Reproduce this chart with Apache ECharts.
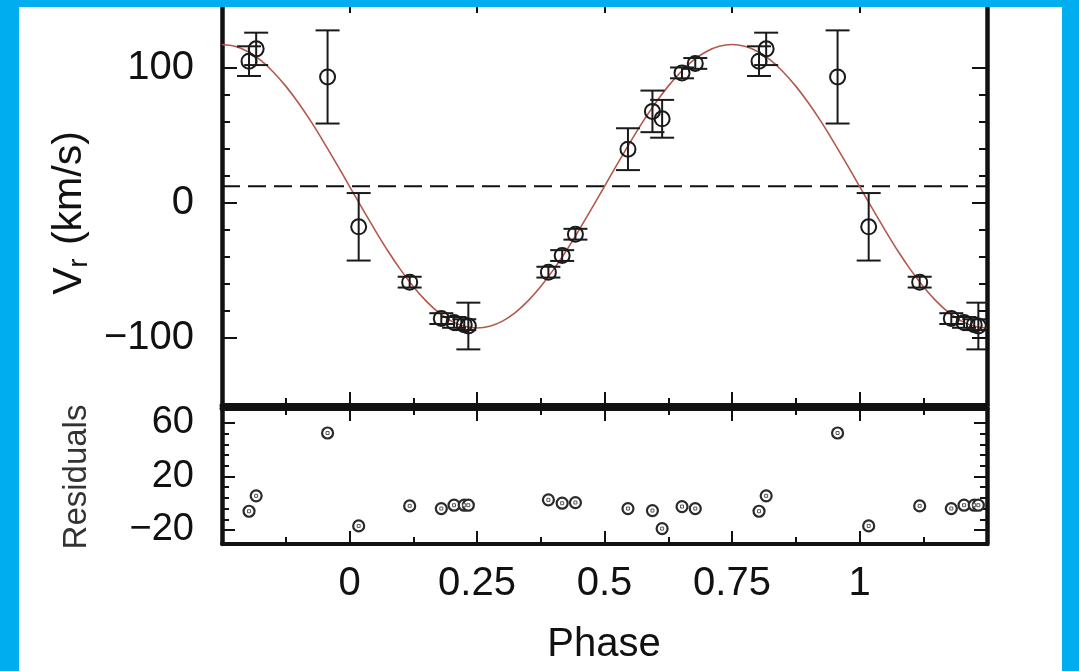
<!DOCTYPE html>
<html><head><meta charset="utf-8">
<script src="https://cdn.jsdelivr.net/npm/echarts@6/dist/echarts.min.js"></script>
<style>html,body{margin:0;padding:0;background:#fff}#c{width:1079px;height:671px}</style>
</head><body><div id="c"></div>
<script>
// ---- data ----
const phases     = [0.018, 0.118, 0.180, 0.205, 0.225, 0.233, 0.390, 0.417, 0.443, 0.546, 0.594, 0.613, 0.652, 0.678, 0.803, 0.817, 0.957];
const velocities = [-18, -59, -86, -88.8, -90.5, -91.5, -51.6, -39.3, -23.5, 39.5, 67.5, 62, 96, 103, 104.7, 113.8, 93];
const errors     = [25, 4, 4, 4, 4, 17.3, 4, 4, 4, 15.5, 15.4, 14, 4, 4, 11, 12, 34.5];
const residuals  = [-17, -2, -4, -1.5, -1.5, -1.5, 2.5, 0, 0.5, -4, -5.5, -19, -2.5, -4, -6, 5.5, 52.5];
const modelPhases = [-0.25,-0.225,-0.2,-0.175,-0.15,-0.125,-0.1,-0.075,-0.05,-0.025,
  0,0.025,0.05,0.075,0.1,0.125,0.15,0.175,0.2,0.225,
  0.25,0.275,0.3,0.325,0.35,0.375,0.4,0.425,0.45,0.475,
  0.5,0.525,0.55,0.575,0.6,0.625,0.65,0.675,0.7,0.725,
  0.75,0.775,0.8,0.825,0.85,0.875,0.9,0.925,0.95,0.975,
  1,1.025,1.05,1.075,1.1,1.125,1.15,1.175,1.2,1.225,1.25];
const modelVelocities = [117,115.7,111.9,105.6,96.9,86.2,73.7,59.7,44.4,28.4,
  12,-4.4,-20.4,-35.7,-49.7,-62.2,-72.9,-81.6,-87.9,-91.7,
  -93,-91.7,-87.9,-81.6,-72.9,-62.2,-49.7,-35.7,-20.4,-4.4,
  12,28.4,44.4,59.7,73.7,86.2,96.9,105.6,111.9,115.7,
  117,115.7,111.9,105.6,96.9,86.2,73.7,59.7,44.4,28.4,
  12,-4.4,-20.4,-35.7,-49.7,-62.2,-72.9,-81.6,-87.9,-91.7,-93];
const gamma = 12;
const xTickValues = [0, 0.25, 0.5, 0.75, 1];
const xTickLabels = ['0', '0.25', '0.5', '0.75', '1'];
const vTickValues = [-100, 0, 100];
const vTickLabels = ['\u2212100', '0', '100'];
const vMinorTicks = [-80, -60, -40, -20, 20, 40, 60, 80];
const resTickValues = [-20, 20, 60];
const resTickLabels = ['\u221220', '20', '60'];
const resMinorTicks = [-12, -4, 4, 12, 28, 36, 44, 52];

// ---- build plotted lists (phase-folded copies inside the visible window) ----
const X_MIN = -0.25, X_MAX = 1.25;
const ptData = [], errData = [], resData = [];
phases.forEach((p, i) => {
  [p - 1, p, p + 1].forEach(q => {
    if (q >= X_MIN && q <= X_MAX) {
      ptData.push([q, velocities[i]]);
      errData.push([q, velocities[i], errors[i]]);
      resData.push([q, residuals[i]]);
    }
  });
});
const modelData = modelPhases.map((p, i) => [p, modelVelocities[i]]);

const FONT = "'Liberation Sans', Arial, Helvetica, sans-serif";
const INK = '#111';

function fmt(values, labels) { return v => { const k = values.findIndex(t => Math.abs(t - v) < 1e-9); return k >= 0 ? labels[k] : ''; }; }

function xAxisDef(gridIndex, position, withLabels, lineWidth) {
  return {
    type: 'value', gridIndex, position, min: X_MIN, max: X_MAX, interval: 0.25,
    axisLine: { show: true, onZero: false, lineStyle: { color: INK, width: lineWidth } },
    axisTick: { show: true, inside: true, length: 13, lineStyle: { color: INK, width: 2 } },
    minorTick: { show: true, splitNumber: 2, length: 7, lineStyle: { color: INK, width: 2 } },
    splitLine: { show: false }, minorSplitLine: { show: false },
    axisLabel: withLabels ? { show: true, customValues: xTickValues, formatter: fmt(xTickValues, xTickLabels), fontSize: 40, fontFamily: FONT, color: INK, margin: 20 } : { show: false }
  };
}
function yAxisDef(gridIndex, position, min, max, ticks, len, showLine, label) {
  return {
    type: 'value', gridIndex, position, min, max,
    axisLine: { show: showLine, onZero: false, lineStyle: { color: INK, width: 4.5 } },
    axisTick: { show: true, inside: true, length: len, customValues: ticks, lineStyle: { color: INK, width: 2 } },
    splitLine: { show: false },
    axisLabel: label ? Object.assign({ show: true, fontFamily: FONT, color: INK }, label) : { show: false }
  };
}

const chart = echarts.init(document.getElementById('c'), null, { renderer: 'canvas' });

function renderErr(params, api) {
  const x = api.value(0), y = api.value(1), e = api.value(2);
  const t = api.coord([x, y + e]), b = api.coord([x, y - e]);
  const hw = 12, st = { stroke: '#1a1a1a', lineWidth: 2 };
  return { type: 'group', children: [
    { type: 'line', shape: { x1: t[0], y1: t[1], x2: b[0], y2: b[1] }, style: st },
    { type: 'line', shape: { x1: t[0] - hw, y1: t[1], x2: t[0] + hw, y2: t[1] }, style: st },
    { type: 'line', shape: { x1: b[0] - hw, y1: b[1], x2: b[0] + hw, y2: b[1] }, style: st }
  ]};
}

chart.setOption({
  animation: false,
  backgroundColor: '#fff',
  grid: [
    { left: 222, top: 0, width: 765, height: 405 },
    { left: 222, top: 408, width: 765, height: 136 }
  ],
  xAxis: [
    xAxisDef(0, 'bottom', false, 5),
    xAxisDef(0, 'top', false, 4.5),
    xAxisDef(1, 'top', false, 5),
    xAxisDef(1, 'bottom', true, 4)
  ],
  yAxis: [
    yAxisDef(0, 'left', -150, 150, vTickValues, 15, true, { customValues: vTickValues, formatter: fmt(vTickValues, vTickLabels), fontSize: 40, margin: 28 }),
    yAxisDef(0, 'left', -150, 150, vMinorTicks, 8, false, null),
    yAxisDef(0, 'right', -150, 150, vTickValues, 15, true, null),
    yAxisDef(0, 'right', -150, 150, vMinorTicks, 8, false, null),
    yAxisDef(1, 'left', -30.5, 71.2, resTickValues, 13, true, { customValues: resTickValues, formatter: fmt(resTickValues, resTickLabels), fontSize: 38, margin: 28 }),
    yAxisDef(1, 'left', -30.5, 71.2, resMinorTicks, 7, false, null),
    yAxisDef(1, 'right', -30.5, 71.2, resTickValues, 13, true, null),
    yAxisDef(1, 'right', -30.5, 71.2, resMinorTicks, 7, false, null)
  ],
  series: [
    { type: 'line', name: 'model', xAxisIndex: 0, yAxisIndex: 0, data: modelData, smooth: 0.3, showSymbol: false, symbol: 'none',
      lineStyle: { color: '#b5584c', width: 1.6 }, z: 2, silent: true },
    { type: 'line', name: 'gamma', xAxisIndex: 0, yAxisIndex: 0, data: [[X_MIN, gamma], [X_MAX, gamma]], showSymbol: false, symbol: 'none',
      lineStyle: { color: INK, width: 2, type: [18, 8] }, z: 1, silent: true },
    { type: 'custom', name: 'errors', xAxisIndex: 0, yAxisIndex: 0, data: errData, renderItem: renderErr, clip: true, z: 3, silent: true },
    { type: 'scatter', name: 'rv', xAxisIndex: 0, yAxisIndex: 0, data: ptData, symbol: 'circle', symbolSize: 15,
      itemStyle: { color: 'rgba(0,0,0,0)', borderColor: '#1a1a1a', borderWidth: 2, opacity: 1 }, z: 4, silent: true },
    { type: 'scatter', name: 'res', xAxisIndex: 3, yAxisIndex: 4, data: resData, symbol: 'circle', symbolSize: 11,
      itemStyle: { color: '#fff', borderColor: '#2a2a2a', borderWidth: 2.2, opacity: 1 }, z: 4, silent: true },
    { type: 'scatter', name: 'resc', xAxisIndex: 3, yAxisIndex: 4, data: resData, symbol: 'rect', symbolSize: 3,
      itemStyle: { color: '#fff', borderColor: '#555', borderWidth: 1, opacity: 1 }, z: 5, silent: true }
  ],
  graphic: [
    { type: 'text', x: 70, y: 213, rotation: Math.PI / 2, z: 50,
      style: { text: '{v|V}{s|r}{v| (km/s)}', align: 'center', verticalAlign: 'middle', fill: INK,
        rich: { v: { fontSize: 41, fontFamily: FONT, fill: INK, lineHeight: 46, verticalAlign: 'middle' },
                s: { fontSize: 27, fontFamily: FONT, fill: INK, lineHeight: 46, verticalAlign: 'bottom', padding: [14, 2, 0, 0] } } } },
    { type: 'text', x: 77, y: 477, rotation: Math.PI / 2, z: 50,
      style: { text: 'Residuals', align: 'center', verticalAlign: 'middle', fill: '#333', fontSize: 33, fontFamily: FONT } },
    { type: 'text', x: 604, y: 645, z: 50,
      style: { text: 'Phase', align: 'center', verticalAlign: 'middle', fill: INK, fontSize: 40, fontFamily: FONT } },
    { type: 'rect', z: 100, shape: { x: 0, y: 0, width: 19, height: 671 }, style: { fill: '#00AEEF' } },
    { type: 'rect', z: 100, shape: { x: 0, y: 0, width: 1079, height: 7 }, style: { fill: '#00AEEF' } },
    { type: 'rect', z: 100, shape: { x: 1062, y: 0, width: 17, height: 671 }, style: { fill: '#00AEEF' } }
  ]
});
</script></body></html>
